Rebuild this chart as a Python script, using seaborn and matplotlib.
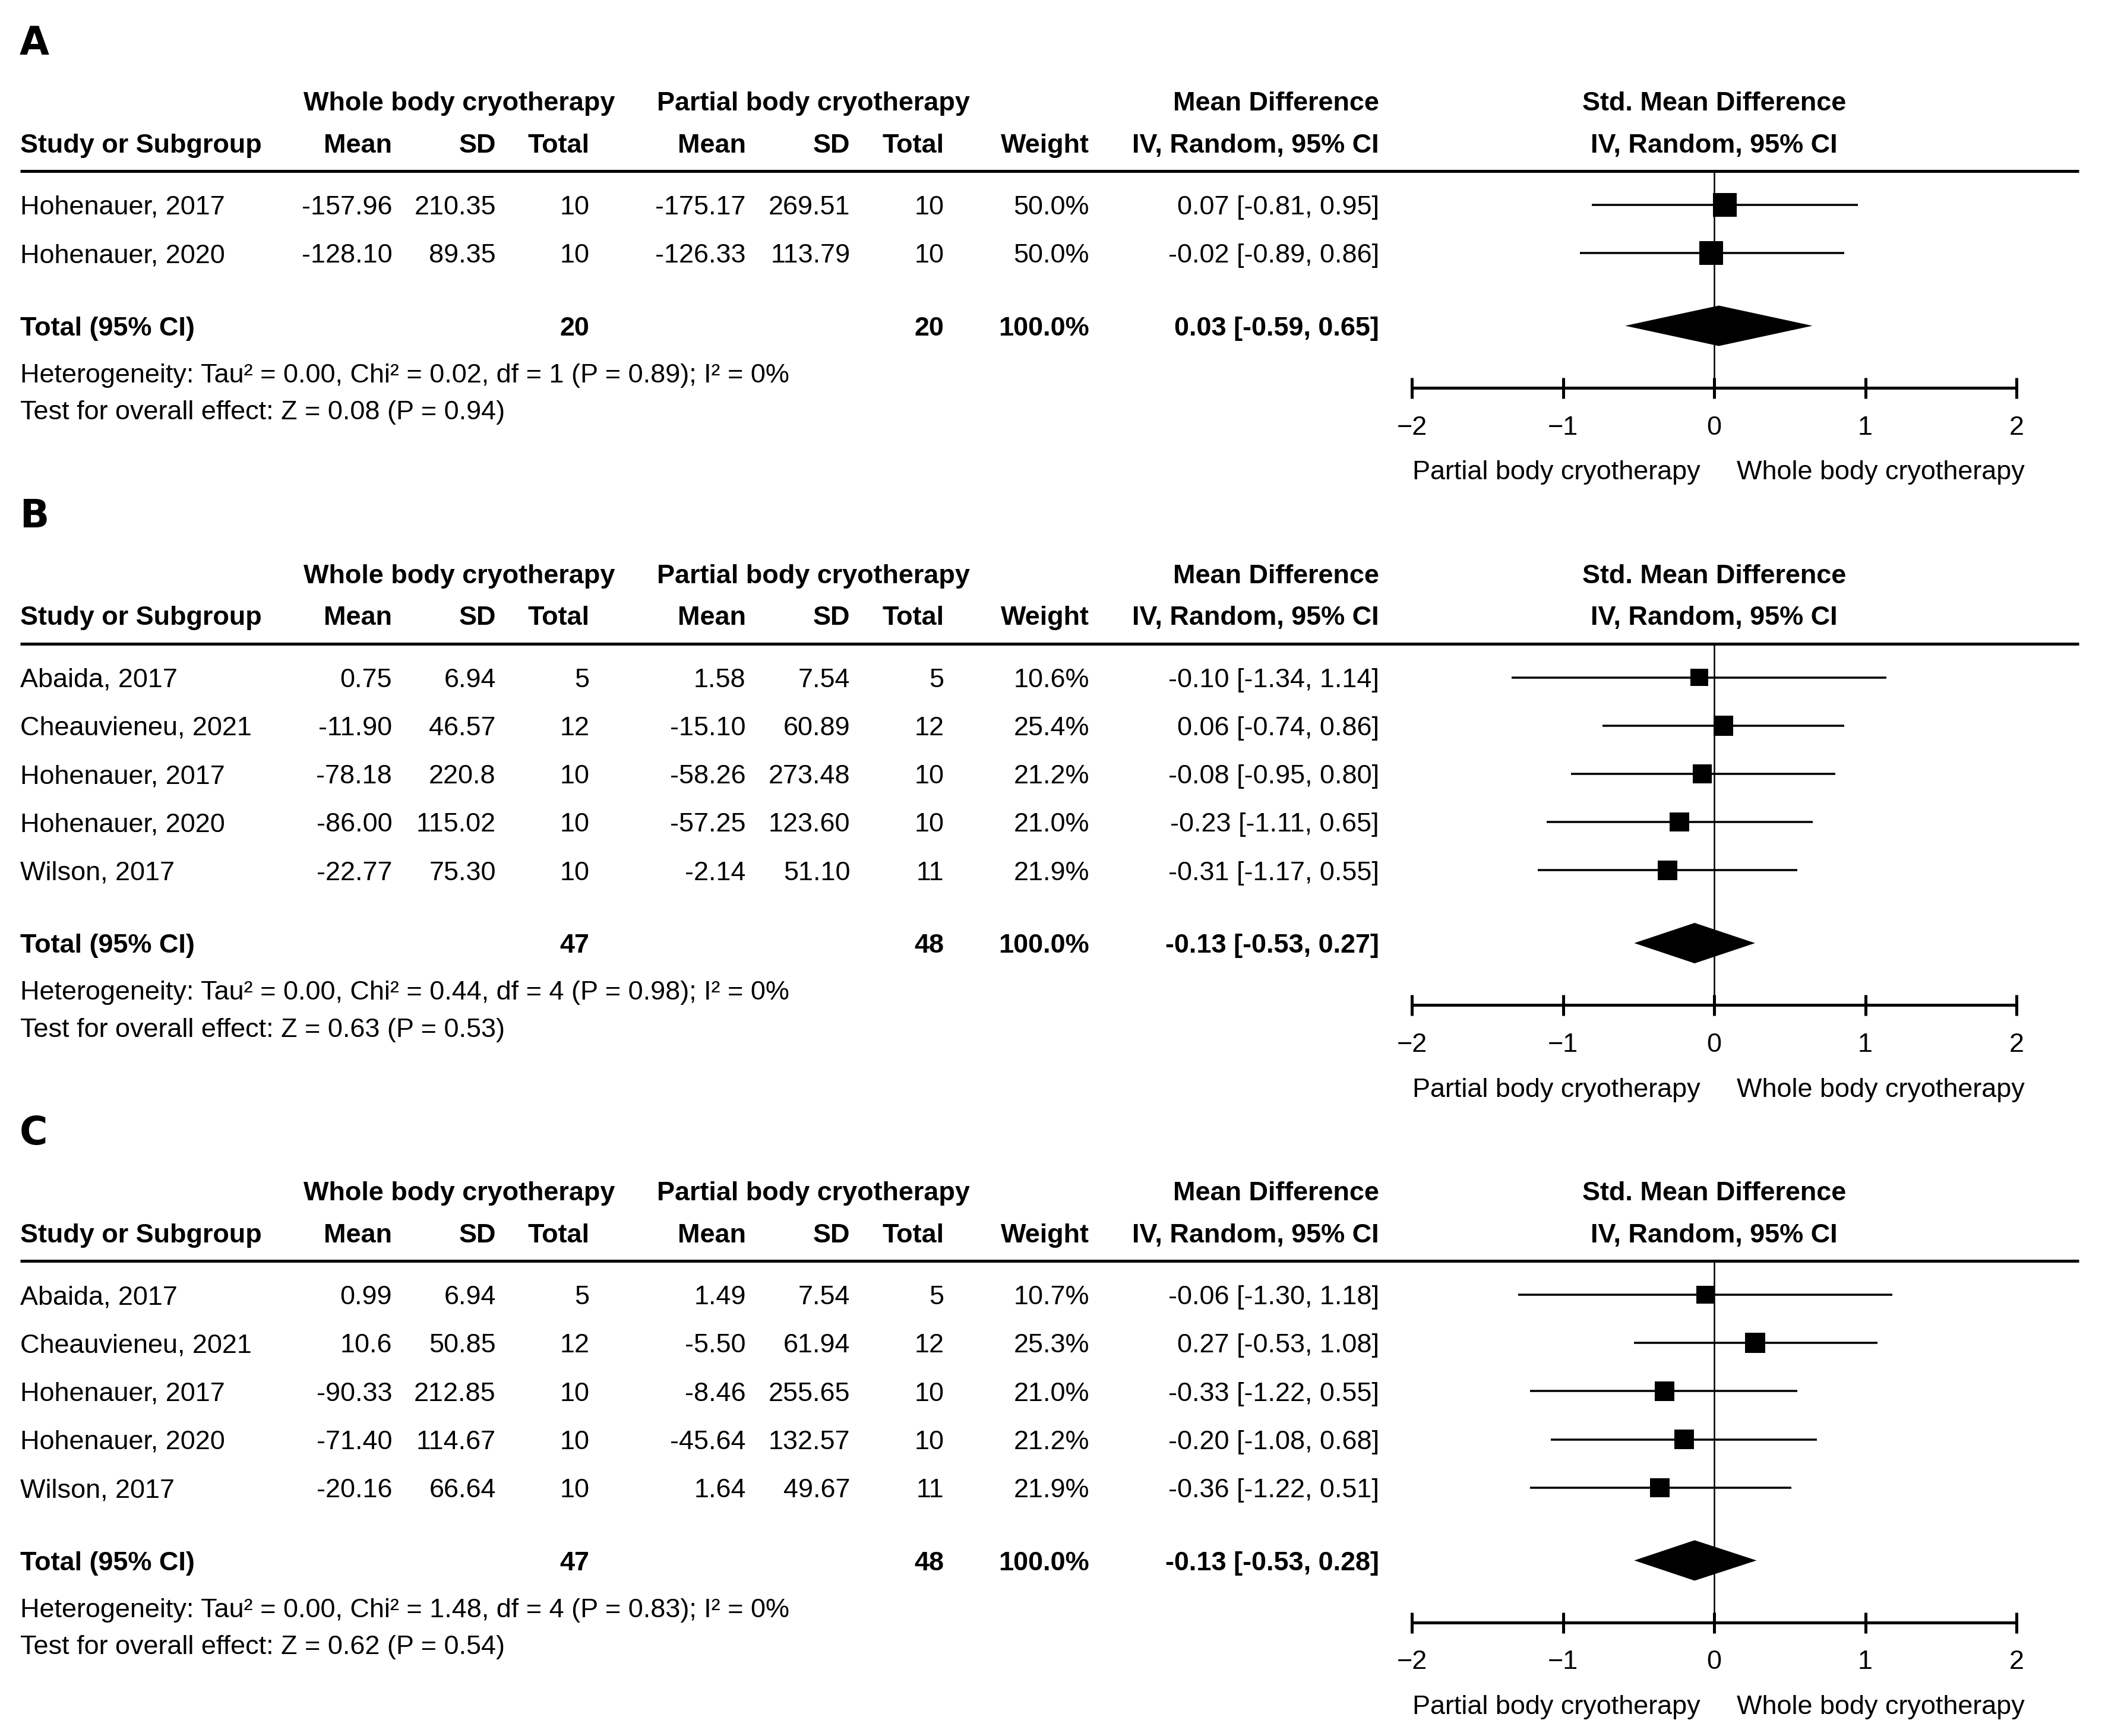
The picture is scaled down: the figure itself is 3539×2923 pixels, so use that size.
import numpy as np
import pandas as pd
import matplotlib
matplotlib.use("Agg")
import matplotlib.pyplot as plt
from matplotlib import font_manager
import seaborn as sns

# ---------------- data ----------------
panel_labels = ["A", "B", "C"]

studies_A = ["Hohenauer, 2017", "Hohenauer, 2020"]
wbc_mean_A = ["-157.96", "-128.10"]
wbc_sd_A = ["210.35", "89.35"]
wbc_n_A = [10, 10]
pbc_mean_A = ["-175.17", "-126.33"]
pbc_sd_A = ["269.51", "113.79"]
pbc_n_A = [10, 10]
weight_A = [50.0, 50.0]
smd_A = [0.07, -0.02]
lo_A = [-0.81, -0.89]
hi_A = [0.95, 0.86]
total_A = [0.03, -0.59, 0.65]
het_A = "Heterogeneity: Tau² = 0.00, Chi² = 0.02, df = 1 (P = 0.89); I² = 0%"
eff_A = "Test for overall effect: Z = 0.08 (P = 0.94)"

studies_B = ["Abaida, 2017", "Cheauvieneu, 2021", "Hohenauer, 2017", "Hohenauer, 2020", "Wilson, 2017"]
wbc_mean_B = ["0.75", "-11.90", "-78.18", "-86.00", "-22.77"]
wbc_sd_B = ["6.94", "46.57", "220.8", "115.02", "75.30"]
wbc_n_B = [5, 12, 10, 10, 10]
pbc_mean_B = ["1.58", "-15.10", "-58.26", "-57.25", "-2.14"]
pbc_sd_B = ["7.54", "60.89", "273.48", "123.60", "51.10"]
pbc_n_B = [5, 12, 10, 10, 11]
weight_B = [10.6, 25.4, 21.2, 21.0, 21.9]
smd_B = [-0.10, 0.06, -0.08, -0.23, -0.31]
lo_B = [-1.34, -0.74, -0.95, -1.11, -1.17]
hi_B = [1.14, 0.86, 0.80, 0.65, 0.55]
total_B = [-0.13, -0.53, 0.27]
het_B = "Heterogeneity: Tau² = 0.00, Chi² = 0.44, df = 4 (P = 0.98); I² = 0%"
eff_B = "Test for overall effect: Z = 0.63 (P = 0.53)"

studies_C = ["Abaida, 2017", "Cheauvieneu, 2021", "Hohenauer, 2017", "Hohenauer, 2020", "Wilson, 2017"]
wbc_mean_C = ["0.99", "10.6", "-90.33", "-71.40", "-20.16"]
wbc_sd_C = ["6.94", "50.85", "212.85", "114.67", "66.64"]
wbc_n_C = [5, 12, 10, 10, 10]
pbc_mean_C = ["1.49", "-5.50", "-8.46", "-45.64", "1.64"]
pbc_sd_C = ["7.54", "61.94", "255.65", "132.57", "49.67"]
pbc_n_C = [5, 12, 10, 10, 11]
weight_C = [10.7, 25.3, 21.0, 21.2, 21.9]
smd_C = [-0.06, 0.27, -0.33, -0.20, -0.36]
lo_C = [-1.30, -0.53, -1.22, -1.08, -1.22]
hi_C = [1.18, 1.08, 0.55, 0.68, 0.51]
total_C = [-0.13, -0.53, 0.28]
het_C = "Heterogeneity: Tau² = 0.00, Chi² = 1.48, df = 4 (P = 0.83); I² = 0%"
eff_C = "Test for overall effect: Z = 0.62 (P = 0.54)"

total_weight = [100.0, 100.0, 100.0]
xticks = [-2, -1, 0, 1, 2]
left_dir = "Partial body cryotherapy"
right_dir = "Whole body cryotherapy"

panels = [
    dict(study=studies_A, wm=wbc_mean_A, ws=wbc_sd_A, wn=wbc_n_A, pm=pbc_mean_A, ps=pbc_sd_A, pn=pbc_n_A,
         w=weight_A, smd=smd_A, lo=lo_A, hi=hi_A, tot=total_A, het=het_A, eff=eff_A),
    dict(study=studies_B, wm=wbc_mean_B, ws=wbc_sd_B, wn=wbc_n_B, pm=pbc_mean_B, ps=pbc_sd_B, pn=pbc_n_B,
         w=weight_B, smd=smd_B, lo=lo_B, hi=hi_B, tot=total_B, het=het_B, eff=eff_B),
    dict(study=studies_C, wm=wbc_mean_C, ws=wbc_sd_C, wn=wbc_n_C, pm=pbc_mean_C, ps=pbc_sd_C, pn=pbc_n_C,
         w=weight_C, smd=smd_C, lo=lo_C, hi=hi_C, tot=total_C, het=het_C, eff=eff_C),
]

# ---------------- style ----------------
sns.set_theme(style="white")
available = {f.name for f in font_manager.fontManager.ttflist}
if "Liberation Sans Narrow" in available:
    MAIN_FONT = "Liberation Sans Narrow"
    FS = 12.7
else:
    MAIN_FONT = "Liberation Sans"
    FS = 10.8
plt.rcParams["font.family"] = [MAIN_FONT, "Liberation Sans", "DejaVu Sans"]
plt.rcParams["axes.unicode_minus"] = True

W, H = 1560.0, 1288.5          # layout units (reference display pixels)
PX2PT = (3539 / W) * 72 / 300  # one layout unit in points

fig = plt.figure(figsize=(3539 / 300, 2923 / 300), dpi=300)
fig.patch.set_facecolor("white")
ov = fig.add_axes([0, 0, 1, 1])
ov.set_xlim(0, W)
ov.set_ylim(H, 0)
ov.axis("off")

X_STUDY = 15
X_WM, X_WS, X_WN = 291, 368, 437.5
X_PM, X_PS, X_PN = 553.5, 631, 700.5
X_WT = 808.5
X_MD = 1023.5
X_F0, X_F1 = 1048, 1496.5
X_LINE_END = 1543
BASE = FS * 0.716 / 2 / PX2PT  # center -> baseline offset in layout units


def txt(x, y, s, ha="left", bold=False, size=None):
    ov.text(x, y + BASE, s, ha=ha, va="baseline", fontsize=size or FS,
            fontweight="bold" if bold else "normal", color="black")


label_y = 30.0
for pi, p in enumerate(panels):
    # panel letter
    ov.text(14.5, label_y + 10.5, panel_labels[pi], ha="left", va="baseline",
            fontsize=15.5, fontweight="heavy", color="black",
            family=["DejaVu Sans", "Liberation Sans"])
    h1 = label_y + 45
    h2 = label_y + 76
    line_y = label_y + 97
    # headers
    txt((225 + 457) / 2, h1, "Whole body cryotherapy", ha="center", bold=True)
    txt((487 + 720) / 2, h1, "Partial body cryotherapy", ha="center", bold=True)
    txt(X_MD, h1, "Mean Difference", ha="right", bold=True)
    txt((X_F0 + X_F1) / 2, h1, "Std. Mean Difference", ha="center", bold=True)
    txt(X_STUDY, h2, "Study or Subgroup", bold=True)
    txt(X_WM, h2, "Mean", ha="right", bold=True)
    txt(X_WS, h2, "SD", ha="right", bold=True)
    txt(X_WN, h2, "Total", ha="right", bold=True)
    txt(X_PM, h2, "Mean", ha="right", bold=True)
    txt(X_PS, h2, "SD", ha="right", bold=True)
    txt(X_PN, h2, "Total", ha="right", bold=True)
    txt(X_WT, h2, "Weight", ha="right", bold=True)
    txt(X_MD, h2, "IV, Random, 95% CI", ha="right", bold=True)
    txt((X_F0 + X_F1) / 2, h2, "IV, Random, 95% CI", ha="center", bold=True)
    ov.plot([X_STUDY, X_LINE_END], [line_y, line_y], color="black", lw=1.2, solid_capstyle="butt")

    n = len(p["study"])
    rows_y = [line_y + 25 + 35.8 * i for i in range(n)]
    for i in range(n):
        y = rows_y[i]
        txt(X_STUDY, y, p["study"][i])
        txt(X_WM, y, p["wm"][i], ha="right")
        txt(X_WS, y, p["ws"][i], ha="right")
        txt(X_WN, y, str(p["wn"][i]), ha="right")
        txt(X_PM, y, p["pm"][i], ha="right")
        txt(X_PS, y, p["ps"][i], ha="right")
        txt(X_PN, y, str(p["pn"][i]), ha="right")
        txt(X_WT, y, f"{p['w'][i]:.1f}%", ha="right")
        txt(X_MD, y, f"{p['smd'][i]:.2f} [{p['lo'][i]:.2f}, {p['hi'][i]:.2f}]", ha="right")

    tot_y = rows_y[-1] + 54
    txt(X_STUDY, tot_y, "Total (95% CI)", bold=True)
    txt(X_WN, tot_y, str(sum(p["wn"])), ha="right", bold=True)
    txt(X_PN, tot_y, str(sum(p["pn"])), ha="right", bold=True)
    txt(X_WT, tot_y, f"{total_weight[pi]:.1f}%", ha="right", bold=True)
    t = p["tot"]
    txt(X_MD, tot_y, f"{t[0]:.2f} [{t[1]:.2f}, {t[2]:.2f}]", ha="right", bold=True)
    txt(X_STUDY, tot_y + 35, p["het"])
    txt(X_STUDY, tot_y + 62.5, p["eff"])

    # forest axes
    axis_y = tot_y + 46
    fa = fig.add_axes([X_F0 / W, 1 - axis_y / H, (X_F1 - X_F0) / W, (axis_y - line_y) / H])
    fa.set_facecolor("none")
    fa.set_xlim(-2, 2)
    fa.set_ylim(axis_y, line_y)
    for s in ["top", "left", "right"]:
        fa.spines[s].set_visible(False)
    fa.spines["bottom"].set_linewidth(1.2)
    fa.spines["bottom"].set_color("black")
    fa.set_xticks(xticks)
    fa.set_yticks([])
    fa.tick_params(axis="x", direction="inout", length=8.4, width=1.2, color="black",
                   labelsize=FS, pad=7.0, labelcolor="black", bottom=True)
    fa.axvline(0, color="black", lw=0.6, zorder=1)

    df = pd.DataFrame({"smd": p["smd"], "y": rows_y, "lo": p["lo"], "hi": p["hi"], "w": p["w"]})
    fa.hlines(df["y"], df["lo"], df["hi"], color="black", lw=0.85, zorder=2)
    side = (11.8 + 0.12 * df["w"]) * PX2PT
    sns.scatterplot(data=df, x="smd", y="y", marker="s", color="black", s=side ** 2,
                    linewidth=0, ax=fa, legend=False, zorder=3)
    dh = 15
    fa.fill([t[1], t[0], t[2], t[0]], [tot_y, tot_y - dh, tot_y, tot_y + dh],
            color="black", lw=0, zorder=3)
    fa.set_xlabel("")
    fa.set_ylabel("")

    dir_y = axis_y + 61
    txt(1262, dir_y, left_dir, ha="right")
    txt(1289, dir_y, right_dir, ha="left")

    label_y = dir_y + 32

fig.savefig("out.png", dpi=300, facecolor="white")
